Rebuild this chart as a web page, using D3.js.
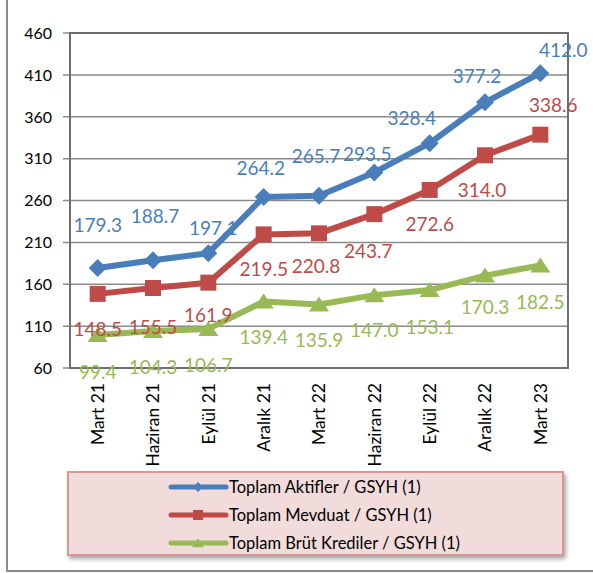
<!DOCTYPE html>
<html>
<head>
<meta charset="utf-8">
<script src="https://cdn.jsdelivr.net/npm/d3@7"></script>
<style>
  body { margin: 0; background: #fff; }
  svg text { font-family: Lato, "Liberation Sans", sans-serif; }
</style>
</head>
<body>
<div id="chart"></div>
<script>
// DATA
var categories = ["Mart 21", "Haziran 21", "Eylül 21", "Aralık 21", "Mart 22", "Haziran 22", "Eylül 22", "Aralık 22", "Mart 23"];
var aktifler = [179.3, 188.7, 197.1, 264.2, 265.7, 293.5, 328.4, 377.2, 412.0];
var mevduat = [148.5, 155.5, 161.9, 219.5, 220.8, 243.7, 272.6, 314.0, 338.6];
var krediler = [99.4, 104.3, 106.7, 139.4, 135.9, 147.0, 153.1, 170.3, 182.5];
var yTicks = [60, 110, 160, 210, 260, 310, 360, 410, 460];
var seriesNames = ["Toplam Aktifler / GSYH (1)", "Toplam Mevduat / GSYH (1)", "Toplam Brüt Krediler / GSYH (1)"];

// label offsets (layout only, as placed in the original)
var aktiflerLabelDx = [0, 2, 5, -3, -3, -7, -18, -8, 23];
var aktiflerLabelDy = [-43, -44, -25, -29, -40, -18, -25, -26, -23];
var mevduatLabelDx = [0, 0, 0, 0, -3, -6, 0, -3, 13];
var mevduatLabelDy = [35, 39, 33, 35, 33, 37, 34, 35, -30];
var kredilerLabelDx = [0, 0, 0, 0, 0, 0, 0, 0, 0];
var kredilerLabelDy = [37, 36, 36, 36, 36, 35, 37, 32, 37];

var w = 593;
var h = 573;
var plot = {left: 70, right: 568, top: 33, bottom: 368};

var colors = ["#4a7ebb", "#be4b48", "#98b954"];

var svg = d3.select("#chart").append("svg").attr("width", w).attr("height", h);

// drop shadow for legend
var defs = svg.append("defs");
var f = defs.append("filter").attr("id", "shadow").attr("x", "-10%").attr("y", "-10%").attr("width", "130%").attr("height", "140%");
f.append("feDropShadow").attr("dx", 2).attr("dy", 3).attr("stdDeviation", 2).attr("flood-color", "#000").attr("flood-opacity", 0.35);

// outer frame (left and bottom edges visible)
svg.append("path")
  .attr("d", "M7,0 V571 H593")
  .attr("fill", "none")
  .attr("stroke", "#8c8c8c")
  .attr("stroke-width", 2);

// SCALES
var xScale = d3.scaleBand()
  .domain(categories)
  .range([plot.left, plot.right]);
var yScale = d3.scaleLinear()
  .domain([60, 460])
  .range([plot.bottom, plot.top]);

function cx(i) { return xScale(categories[i]) + xScale.bandwidth() / 2; }

// GRIDLINES
svg.append("g")
  .selectAll("line")
  .data(yTicks)
  .enter()
  .append("line")
  .attr("x1", plot.left - 7)
  .attr("x2", plot.right)
  .attr("y1", function (d) { return yScale(d); })
  .attr("y2", function (d) { return yScale(d); })
  .attr("stroke", "#8a8a8a")
  .attr("stroke-width", 1.5);

// plot frame
svg.append("rect")
  .attr("x", plot.left)
  .attr("y", plot.top)
  .attr("width", plot.right - plot.left)
  .attr("height", plot.bottom - plot.top)
  .attr("fill", "none")
  .attr("stroke", "#6e6e6e")
  .attr("stroke-width", 2);

// Y AXIS LABELS
svg.append("g")
  .selectAll("text")
  .data(yTicks)
  .enter()
  .append("text")
  .attr("x", 52)
  .attr("y", function (d) { return yScale(d); })
  .attr("dy", "0.36em")
  .attr("text-anchor", "end")
  .attr("font-size", "16px")
  .attr("fill", "#000")
  .text(function (d) { return d; });

// X AXIS LABELS
svg.append("g")
  .selectAll("text")
  .data(categories)
  .enter()
  .append("text")
  .attr("transform", function (d) {
    return "translate(" + (xScale(d) + xScale.bandwidth() / 2) + ",383) rotate(-90)";
  })
  .attr("dy", "0.36em")
  .attr("text-anchor", "end")
  .attr("font-size", "17.5px")
  .attr("fill", "#000")
  .text(function (d) { return d; });

// MARKERS
function diamond(s) { return "M0," + (-s) + "L" + s + ",0L0," + s + "L" + (-s) + ",0Z"; }
function square(s) { return "M" + (-s) + "," + (-s) + "H" + s + "V" + s + "H" + (-s) + "Z"; }
function triangle(s) { return "M0," + (-s * 0.8) + "L" + s + "," + (s * 0.7) + "L" + (-s) + "," + (s * 0.7) + "Z"; }

var series = [
  {values: aktifler, color: colors[0], marker: diamond, size: 9, dx: aktiflerLabelDx, dy: aktiflerLabelDy},
  {values: mevduat, color: colors[1], marker: square, size: 8, dx: mevduatLabelDx, dy: mevduatLabelDy},
  {values: krediler, color: colors[2], marker: triangle, size: 10, dx: kredilerLabelDx, dy: kredilerLabelDy}
];

var line = d3.line()
  .x(function (d, i) { return cx(i); })
  .y(function (d) { return yScale(d); });

series.forEach(function (s) {
  svg.append("path")
    .datum(s.values)
    .attr("d", line)
    .attr("fill", "none")
    .attr("stroke", s.color)
    .attr("stroke-width", 6)
    .attr("stroke-linejoin", "round");

  svg.append("g")
    .selectAll("path")
    .data(s.values)
    .enter()
    .append("path")
    .attr("d", s.marker(s.size))
    .attr("transform", function (d, i) { return "translate(" + cx(i) + "," + yScale(d) + ")"; })
    .attr("fill", s.color);
});

// DATA LABELS (drawn after all lines)
series.forEach(function (s) {
  svg.append("g")
    .selectAll("text")
    .data(s.values)
    .enter()
    .append("text")
    .attr("x", function (d, i) { return cx(i) + s.dx[i]; })
    .attr("y", function (d, i) { return yScale(d) + s.dy[i]; })
    .attr("dy", "0.36em")
    .attr("text-anchor", "middle")
    .attr("font-size", "19px")
    .attr("fill", s.color)
    .text(function (d) { return d.toFixed(1); });
});

// LEGEND
var legend = svg.append("g");
legend.append("rect")
  .attr("x", 68)
  .attr("y", 472)
  .attr("width", 495)
  .attr("height", 83)
  .attr("fill", "#f2dcdb")
  .attr("stroke", "#d99694")
  .attr("stroke-width", 2)
  .attr("filter", "url(#shadow)");

var legendSizes = [5, 5, 6];
seriesNames.forEach(function (name, i) {
  var y = 487 + i * 28;
  legend.append("line")
    .attr("x1", 171)
    .attr("x2", 226)
    .attr("y1", y)
    .attr("y2", y)
    .attr("stroke", series[i].color)
    .attr("stroke-width", 5)
    .attr("stroke-linecap", "round");
  legend.append("path")
    .attr("d", series[i].marker(legendSizes[i]))
    .attr("transform", "translate(198," + y + ")")
    .attr("fill", series[i].color);
  legend.append("text")
    .attr("x", 229)
    .attr("y", y)
    .attr("dy", "0.36em")
    .attr("font-size", "16.5px")
    .attr("fill", "#000")
    .text(name);
});
</script>
</body>
</html>
